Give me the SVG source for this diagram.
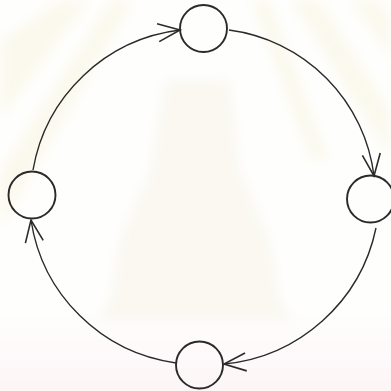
<svg xmlns="http://www.w3.org/2000/svg" width="391" height="391" viewBox="0 0 391 391">
  <style>
    .node { fill: none; stroke: #2a2a2a; stroke-width: 1.9; }
    .edge { fill: none; stroke: #2a2a2a; stroke-width: 1.4; marker-end: url(#arrow); }
    .ray { fill: #fbf9ee; }
    .wm { fill: #faf8f1; }
  </style>
  <defs>
    <marker id="arrow" viewBox="-25 -12 28 24" markerWidth="28" markerHeight="24" refX="0" refY="0" orient="auto" markerUnits="userSpaceOnUse">
      <path d="M-22,-9 L0,0 L-22,9" fill="none" stroke="#2a2a2a" stroke-width="1.6"/>
    </marker>
    <filter id="soft" x="-10%" y="-10%" width="120%" height="120%">
      <feGaussianBlur stdDeviation="6"/>
    </filter>
    <linearGradient id="pink" x1="0" y1="0" x2="0" y2="1">
      <stop offset="0" stop-color="#fefcfc"/>
      <stop offset="1" stop-color="#fdf4f6"/>
    </linearGradient>
  </defs>
  <rect width="391" height="391" fill="#fefefd"/>
  <g id="background" filter="url(#soft)">
    <polygon class="ray" points="0,40 60,0 90,0 0,120"/>
    <polygon class="ray" points="0,170 110,0 135,0 0,230"/>
    <polygon class="ray" points="290,0 320,0 391,110 391,160"/>
    <polygon class="ray" points="250,0 270,0 330,160 310,160"/>
    <polygon class="ray" points="350,0 380,0 391,20 391,60"/>
    <polygon class="wm" points="165,80 230,80 240,170 270,240 280,300 300,330 90,330 110,300 120,240 150,170"/>
    <rect x="-20" y="320" width="431" height="90" fill="url(#pink)"/>
  </g>
  <g id="connectors">
    <path class="edge" d="M33,170 A170,170 0 0 1 180,30"/>
    <path class="edge" d="M229,30 A168,168 0 0 1 374,176"/>
    <path class="edge" d="M376,228 A172,172 0 0 1 224,364"/>
    <path class="edge" d="M176,363 A170,170 0 0 1 31,220"/>
  </g>
  <g id="node-top"><circle class="node" cx="203.5" cy="28.5" r="23.5"/></g>
  <g id="node-right"><circle class="node" cx="370.5" cy="199" r="23.5"/></g>
  <g id="node-bottom"><circle class="node" cx="199.5" cy="365" r="23.5"/></g>
  <g id="node-left"><circle class="node" cx="32" cy="195" r="23.5"/></g>
</svg>
